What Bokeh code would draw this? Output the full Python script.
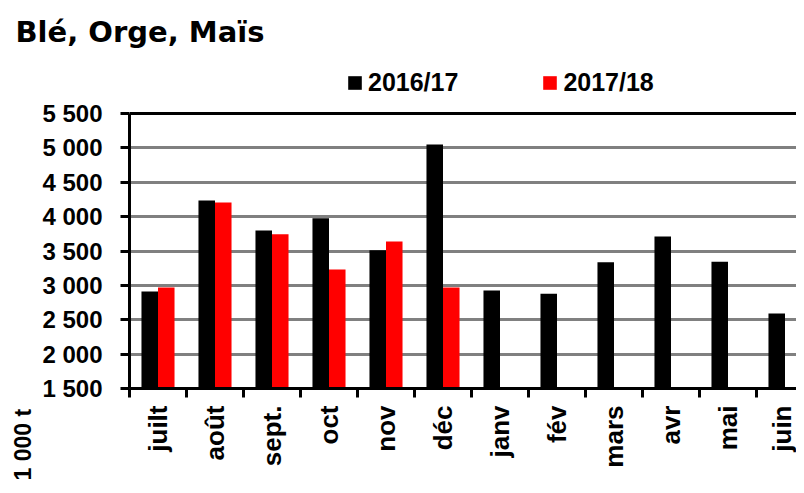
from math import pi
from bokeh.plotting import figure
from bokeh.models import (FixedTicker, Legend, LegendItem, Title, Span,
                          Range1d, ColumnDataSource)
from bokeh.embed import file_html
from bokeh.resources import INLINE

# ---- data ----
months = ["juilt", "août", "sept.", "oct", "nov", "déc",
          "janv", "fév", "mars", "avr", "mai", "juin"]
s2016_17 = [2910, 4235, 3800, 3975, 3510, 5050, 2925, 2880, 3335, 3710, 3345, 2590]
s2017_18 = [2970, 4205, 3745, 3230, 3640, 2970]
series_names = ["2016/17", "2017/18"]
y_ticks = [1500, 2000, 2500, 3000, 3500, 4000, 4500, 5000, 5500]
title_text = "Blé, Orge, Maïs"
unit_text = "1 000 t"

# ---- layout constants (canvas pixels) ----
W, H = 804, 493
LEFT = 137            # frame left
FRAME_TOP = 70        # frame top (legend sits inside, above the 5 500 line)
AXIS_TOP = 121        # pixel of the 5 500 line
AXIS_BOTTOM = 396     # pixel of the 1 500 line
CAT_W = 57.0
bar_w = 0.29
px_per_unit = (AXIS_BOTTOM - AXIS_TOP) / (y_ticks[-1] - y_ticks[0])
y_end = y_ticks[0] + (AXIS_BOTTOM - FRAME_TOP) / px_per_unit

x16 = [i + 0.5 - bar_w / 2 for i in range(len(s2016_17))]
x17 = [i + 0.5 + bar_w / 2 for i in range(len(s2017_18))]
src16 = ColumnDataSource(dict(x=x16, top=s2016_17))
src17 = ColumnDataSource(dict(x=x17, top=s2017_18))

p = figure(width=W, height=H, output_backend="svg", toolbar_location=None,
           x_range=Range1d(0, (W - LEFT) / CAT_W), y_range=Range1d(y_ticks[0], y_end),
           min_border_left=LEFT, min_border_top=FRAME_TOP,
           min_border_bottom=H - AXIS_BOTTOM, min_border_right=0,
           outline_line_color=None, margin=(-8, -8, -8, -8))
p.background_fill_color = "white"
p.border_fill_color = "white"

r16 = p.vbar(x="x", top="top", bottom=y_ticks[0], width=bar_w, source=src16,
             fill_color="black", line_color=None)
r17 = p.vbar(x="x", top="top", bottom=y_ticks[0], width=bar_w, source=src17,
             fill_color="#ff0000", line_color=None)

# y axis
ya = p.yaxis[0]
ya.ticker = FixedTicker(ticks=y_ticks)
ya.bounds = (y_ticks[0], y_ticks[-1])
ya.major_label_overrides = {v: f"{v:,}".replace(",", " ") for v in y_ticks}
ya.axis_line_width = 3
ya.axis_line_color = "black"
ya.major_tick_line_width = 3
ya.major_tick_out = 9
ya.major_tick_in = 0
ya.minor_tick_out = 0
ya.minor_tick_in = 0
ya.major_label_standoff = 18
ya.major_label_text_font = "Liberation Sans"
ya.major_label_text_font_style = "bold"
ya.major_label_text_font_size = "24px"
ya.major_label_text_color = "black"

# x axis
xa = p.xaxis[0]
centers = [i + 0.5 for i in range(len(months))]
xa.ticker = FixedTicker(ticks=centers, minor_ticks=list(range(len(months) + 1)))
xa.major_label_overrides = {c: m for c, m in zip(centers, months)}
xa.major_label_orientation = pi / 2
xa.axis_line_width = 3
xa.axis_line_color = "black"
xa.major_tick_out = 0
xa.major_tick_in = 0
xa.minor_tick_out = 9
xa.minor_tick_in = 0
xa.minor_tick_line_width = 3
xa.minor_tick_line_color = "black"
xa.major_label_standoff = 8
xa.major_label_text_font = "Liberation Sans"
xa.major_label_text_font_style = "bold"
xa.major_label_text_font_size = "26px"
xa.major_label_text_color = "black"

# grid and top border line of the plot area
p.xgrid.visible = False
p.ygrid.ticker = FixedTicker(ticks=y_ticks[1:-1])
p.ygrid.grid_line_color = "#808080"
p.ygrid.grid_line_width = 3
p.add_layout(Span(location=y_ticks[-1], dimension="width",
                  line_color="black", line_width=3))

# legend (inside the frame, above the 5 500 line)
legend = Legend(items=[LegendItem(label=series_names[0], renderers=[r16]),
                       LegendItem(label=series_names[1], renderers=[r17])],
                orientation="horizontal", location=(217, 291),
                glyph_width=17, glyph_height=17, label_standoff=5, spacing=83,
                padding=0, margin=0, border_line_color=None,
                background_fill_alpha=0,
                label_text_font="Liberation Sans", label_text_font_style="bold",
                label_text_font_size="25px", label_text_color="black")
p.add_layout(legend, "center")

# title
p.title.text = title_text
p.title.text_font = "DejaVu Sans"
p.title.text_font_style = "bold"
p.title.text_font_size = "29px"
p.title.text_color = "black"
p.title.align = "left"
p.title.offset = -114
p.title.standoff = 28

# unit label on the left side, below the axis
unit = Title(text=unit_text, align="left", offset=-92, standoff=8,
             text_font="Liberation Sans", text_font_style="bold",
             text_font_size="23px", text_color="black")
p.add_layout(unit, "left")

open("out.html", "w").write(file_html(p, INLINE))
